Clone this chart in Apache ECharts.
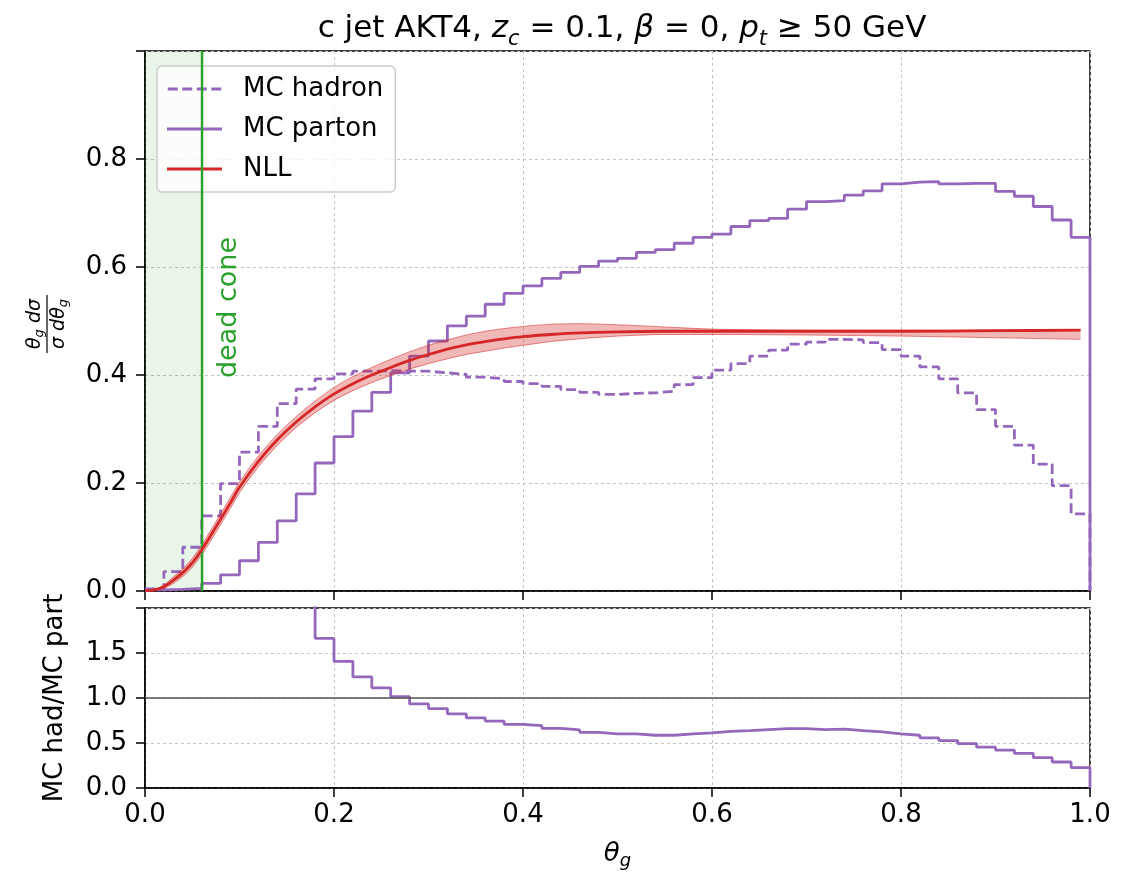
<!DOCTYPE html>
<html>
<head>
<meta charset="utf-8">
<script src="https://cdn.jsdelivr.net/npm/echarts@6/dist/echarts.min.js"></script>
<style>
html,body{margin:0;padding:0;background:#fff;}
#chart{width:1140px;height:875px;}
</style>
</head>
<body>
<div id="chart"></div>
<script>
// ---- data ----
const binLo = [0.00,0.02,0.04,0.06,0.08,0.10,0.12,0.14,0.16,0.18,
               0.20,0.22,0.24,0.26,0.28,0.30,0.32,0.34,0.36,0.38,
               0.40,0.42,0.44,0.46,0.48,0.50,0.52,0.54,0.56,0.58,
               0.60,0.62,0.64,0.66,0.68,0.70,0.72,0.74,0.76,0.78,
               0.80,0.82,0.84,0.86,0.88,0.90,0.92,0.94,0.96,0.98];
const binEnd = 1.0;

const mcHadron = [0.004,0.036,0.081,0.139,0.199,0.257,0.305,0.347,0.374,0.393,
                  0.402,0.407,0.408,0.407,0.407,0.404,0.401,0.396,0.393,0.388,
                  0.384,0.379,0.373,0.368,0.364,0.366,0.367,0.370,0.382,0.395,
                  0.409,0.421,0.435,0.446,0.457,0.461,0.466,0.465,0.460,0.447,
                  0.435,0.415,0.393,0.367,0.336,0.305,0.270,0.235,0.195,0.143];

const mcParton = [0.002,0.003,0.005,0.014,0.030,0.056,0.090,0.130,0.180,0.237,
                  0.286,0.333,0.368,0.404,0.435,0.463,0.491,0.509,0.531,0.551,
                  0.565,0.579,0.590,0.601,0.611,0.616,0.627,0.632,0.644,0.655,
                  0.661,0.675,0.686,0.690,0.707,0.721,0.723,0.733,0.741,0.754,
                  0.757,0.758,0.754,0.755,0.755,0.740,0.731,0.712,0.687,0.655];

const ratioHadParton = [null,null,null,null,null,null,null,null,2.10,1.663,
                  1.407,1.234,1.113,1.015,0.934,0.883,0.824,0.780,0.744,0.707,
                  0.692,0.663,0.645,0.619,0.601,0.601,0.586,0.586,0.601,0.612,
                  0.630,0.637,0.648,0.659,0.659,0.648,0.655,0.637,0.623,0.601,
                  0.586,0.557,0.527,0.494,0.454,0.421,0.385,0.337,0.289,0.227];

const nllTheta   = [0,0.01,0.02,0.03,0.04,0.05,0.06,0.07,0.08,0.09,0.10,0.12,0.14,0.16,0.18,0.20,0.22,0.24,0.26,0.28,0.30,0.32,0.34,0.36,0.38,0.40,0.43,0.46,0.50,0.55,0.60,0.70,0.80,0.90,0.99];
const nllCentral = [0,0.002,0.008,0.020,0.034,0.052,0.076,0.104,0.133,0.162,0.192,0.240,0.280,0.313,0.341,0.365,0.384,0.400,0.414,0.427,0.438,0.448,0.456,0.462,0.467,0.471,0.475,0.478,0.480,0.481,0.481,0.481,0.481,0.482,0.483];
const nllLow     = [0,0.001,0.005,0.014,0.027,0.044,0.067,0.094,0.123,0.152,0.182,0.230,0.270,0.303,0.330,0.353,0.371,0.386,0.399,0.411,0.421,0.430,0.438,0.444,0.450,0.455,0.462,0.467,0.472,0.475,0.475,0.474,0.472,0.469,0.466];
const nllHigh    = [0,0.003,0.011,0.026,0.041,0.060,0.085,0.114,0.143,0.172,0.202,0.250,0.290,0.323,0.352,0.377,0.397,0.414,0.429,0.443,0.455,0.465,0.474,0.481,0.486,0.490,0.494,0.495,0.493,0.489,0.485,0.483,0.483,0.483,0.484];

const deadCone = 0.063;

// ---- styles ----
const FONT = 'DejaVu Sans';
const PURPLE = '#9467bd', RED = '#d62728', GREEN = '#2ca02c';
const BAND_FILL = 'rgba(214,39,40,0.33)', BAND_EDGE = 'rgba(214,39,40,0.55)';

function stepData(vals){
  const d = binLo.map((x,i)=>[x, vals[i]]);
  d.push([binEnd, 0]);
  return d;
}

const chart = echarts.init(document.getElementById('chart'), null, {renderer:'canvas'});

const gridLine = {show:true, lineStyle:{color:'#c4c4c4', width:1, type:[3,3]}};
const axLine = {show:true, lineStyle:{color:'#000', width:1.5}};
const axTick = {show:true, length:9, lineStyle:{color:'#000', width:1.5}};
const lbl = {color:'#000', fontSize:26, fontFamily:FONT};

const ICON_SOLID = 'path://M0,0h55v3h-55z';
const ICON_DASH = 'path://M0,0h10v3h-10z M14.5,0h10v3h-10z M29,0h10v3h-10z M43.5,0h10v3h-10z';

const option = {
  backgroundColor:'#fff',
  animation:false,
  title:{
    text:'c jet AKT4, {i|z}{s|c} = 0.1, {i|β} = 0, {i|p}{s|t} ≥ 50 GeV',
    left:617, textAlign:'center', top:3,
    textStyle:{fontSize:31, fontFamily:FONT, fontWeight:'normal', color:'#000', lineHeight:42,
      rich:{
        i:{fontSize:31, fontStyle:'italic', fontFamily:FONT, color:'#000', lineHeight:42},
        s:{fontSize:21, fontStyle:'italic', fontFamily:FONT, color:'#000', lineHeight:21, verticalAlign:'bottom'}
      }}
  },
  legend:{
    data:[{name:'MC hadron', icon:ICON_DASH},{name:'MC parton', icon:ICON_SOLID},{name:'NLL', icon:ICON_SOLID}],
    orient:'vertical', left:157, top:66,
    itemWidth:55, itemHeight:3, itemGap:10,
    padding:[8,12,8,10],
    backgroundColor:'rgba(255,255,255,0.8)',
    borderColor:'#cccccc', borderWidth:1.5, borderRadius:5,
    textStyle:{fontSize:26, fontFamily:FONT, color:'#000', lineHeight:30, padding:[0,0,0,16]}
  },
  grid:[
    {left:145, top:51, width:945, height:540, show:true, borderColor:'#000', borderWidth:1.5, backgroundColor:'transparent'},
    {left:145, top:608, width:945, height:180, show:true, borderColor:'#000', borderWidth:1.5, backgroundColor:'transparent'}
  ],
  xAxis:[
    {gridIndex:0, type:'value', min:0, max:1, interval:0.2, axisLine:axLine, axisTick:axTick,
     axisLabel:{show:false}, splitLine:gridLine},
    {gridIndex:1, type:'value', min:0, max:1, interval:0.2, axisLine:axLine, axisTick:axTick,
     axisLabel:Object.assign({margin:14, formatter:v=>v.toFixed(1)}, lbl), splitLine:gridLine,
     name:'{i|θ}{s|g}', nameLocation:'middle', nameGap:50,
     nameTextStyle:{fontSize:26, fontFamily:FONT, color:'#000', lineHeight:32,
       rich:{i:{fontSize:26, fontStyle:'italic', fontFamily:FONT, color:'#000', lineHeight:32},
             s:{fontSize:18, fontStyle:'italic', fontFamily:FONT, color:'#000', lineHeight:18, verticalAlign:'bottom'}}}}
  ],
  yAxis:[
    {gridIndex:0, type:'value', min:0, max:1, interval:0.2, axisLine:axLine, axisTick:axTick,
     axisLabel:Object.assign({margin:18, formatter:v=>v>0.95?'':v.toFixed(1)}, lbl), splitLine:gridLine},
    {gridIndex:1, type:'value', min:0, max:2, interval:0.5, axisLine:axLine, axisTick:axTick,
     axisLabel:Object.assign({margin:18, formatter:v=>v>1.9?'':v.toFixed(1)}, lbl), splitLine:gridLine,
     name:'MC had/MC part', nameLocation:'middle', nameGap:77,
     nameTextStyle:{fontSize:26, fontFamily:FONT, color:'#000'}}
  ],
  series:[
    {name:'MC hadron', type:'line', xAxisIndex:0, yAxisIndex:0, step:'end', symbol:'none',
     data:stepData(mcHadron), lineStyle:{color:PURPLE, width:2.8, type:[10,4.5]}, itemStyle:{color:PURPLE}, z:3,
     markArea:{silent:true, itemStyle:{color:'rgba(44,160,44,0.11)'}, data:[[{xAxis:0},{xAxis:deadCone}]]},
     markLine:{silent:true, symbol:'none', label:{show:false}, lineStyle:{color:GREEN, width:2.4, type:'solid'},
       data:[{xAxis:deadCone}]}},
    {name:'MC parton', type:'line', xAxisIndex:0, yAxisIndex:0, step:'end', symbol:'none',
     data:stepData(mcParton), lineStyle:{color:PURPLE, width:2.8}, itemStyle:{color:PURPLE}, z:3},
    {name:'NLL band', type:'custom', xAxisIndex:0, yAxisIndex:0, data:[[0,0]], clip:true, z:4, silent:true,
     renderItem:function(params, api){
       const pts = [];
       for (let i=0;i<nllTheta.length;i++) pts.push(api.coord([nllTheta[i], nllHigh[i]]));
       for (let i=nllTheta.length-1;i>=0;i--) pts.push(api.coord([nllTheta[i], nllLow[i]]));
       return {type:'polygon', shape:{points:pts}, style:{fill:BAND_FILL, stroke:null}};
     }},
    {name:'bandLow', type:'line', xAxisIndex:0, yAxisIndex:0, symbol:'none', smooth:0.3,
     data:nllTheta.map((x,i)=>[x,nllLow[i]]), lineStyle:{color:BAND_EDGE, width:1}, z:4},
    {name:'bandHigh', type:'line', xAxisIndex:0, yAxisIndex:0, symbol:'none', smooth:0.3,
     data:nllTheta.map((x,i)=>[x,nllHigh[i]]), lineStyle:{color:BAND_EDGE, width:1}, z:4},
    {name:'NLL', type:'line', xAxisIndex:0, yAxisIndex:0, symbol:'none', smooth:0.3,
     data:nllTheta.map((x,i)=>[x,nllCentral[i]]), lineStyle:{color:RED, width:2.8}, itemStyle:{color:RED}, z:5},
    {name:'ratio', type:'line', xAxisIndex:1, yAxisIndex:1, step:'end', symbol:'none',
     data:stepData(ratioHadParton), lineStyle:{color:PURPLE, width:2.8}, z:3,
     markLine:{silent:true, symbol:'none', label:{show:false}, lineStyle:{color:'#555', width:1.5, type:'solid'},
       data:[{yAxis:1}]}}
  ]
};
chart.setOption(option);

// dead cone label and main y-axis label (fraction)
const p = chart.convertToPixel({gridIndex:0}, [deadCone, 0.525]);
chart.setOption({
  graphic:[
    {type:'text', x:p[0]+24, y:p[1], rotation:Math.PI/2,
     style:{text:'dead cone', fill:GREEN, fontSize:27, fontFamily:FONT, align:'center', verticalAlign:'middle'}},
    {type:'group', x:47, y:324, rotation:Math.PI/2, children:[
      {type:'text', x:0, y:-12, style:{text:'{i|θ}{s|g} {i|dσ}', align:'center', verticalAlign:'middle',
        fontSize:19, fontFamily:FONT, fill:'#000',
        rich:{i:{fontSize:19, fontStyle:'italic', fontFamily:FONT, fill:'#000', lineHeight:23},
              s:{fontSize:13, fontStyle:'italic', fontFamily:FONT, fill:'#000', lineHeight:13, verticalAlign:'bottom'}}}},
      {type:'line', shape:{x1:-29, y1:0, x2:29, y2:0}, style:{stroke:'#000', lineWidth:1.2}},
      {type:'text', x:0, y:12, style:{text:'{i|σ} {i|dθ}{s|g}', align:'center', verticalAlign:'middle',
        fontSize:19, fontFamily:FONT, fill:'#000',
        rich:{i:{fontSize:19, fontStyle:'italic', fontFamily:FONT, fill:'#000', lineHeight:23},
              s:{fontSize:13, fontStyle:'italic', fontFamily:FONT, fill:'#000', lineHeight:13, verticalAlign:'bottom'}}}}
    ]}
  ]
});
</script>
</body>
</html>
